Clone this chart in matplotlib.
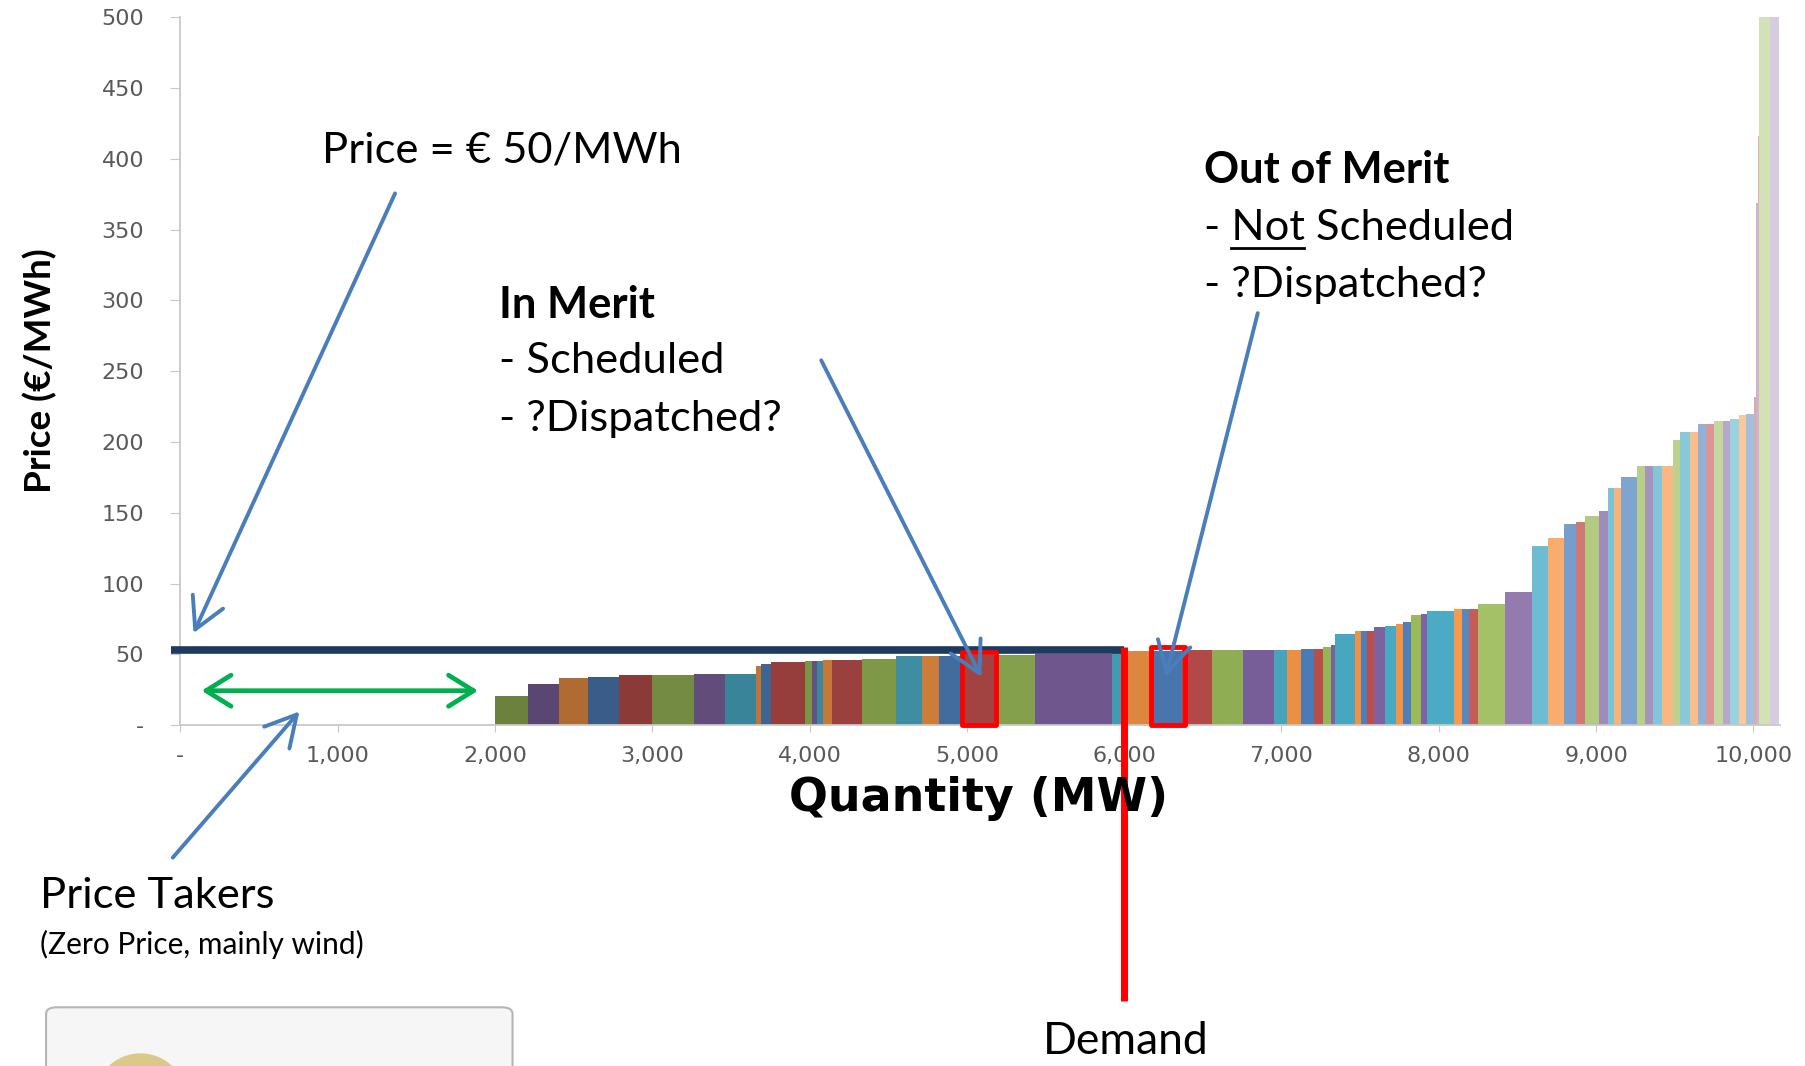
import matplotlib
matplotlib.use("Agg")
import matplotlib.pyplot as plt
import numpy as np
from matplotlib.patches import Rectangle, FancyArrowPatch, FancyBboxPatch, Ellipse
from matplotlib.lines import Line2D
from matplotlib.colors import to_rgb

# supply stack: start of each offer block (MW) and its bid price (EUR/MWh)
block_start = [2000, 2208, 2406, 2594, 2792, 3000, 3264, 3462, 3660, 3689,
               3755, 3971, 4018, 4050, 4084, 4142, 4332, 4551, 4718, 4823,
               4960, 5185, 5435, 5922, 5990, 6172, 6369, 6559, 6754, 6951,
               7036, 7125, 7205, 7265, 7316, 7343, 7466, 7508, 7544, 7587,
               7657, 7725, 7771, 7826, 7890, 7926, 8095, 8148, 8195, 8250,
               8420, 8590, 8692, 8794, 8874, 8931, 9016, 9073, 9116, 9158,
               9260, 9313, 9360, 9419, 9489, 9532, 9595, 9646, 9701, 9748,
               9807, 9854, 9907, 9955, 10006, 10016, 10026, 10036, 10105]
supply_end = 10165
block_price = [20.5, 29.3, 33.0, 34.0, 35.2, 35.7, 36.4, 36.0, 41.5, 43.4,
               44.6, 45.3, 45.3, 45.3, 46.2, 46.2, 46.9, 48.6, 48.6, 48.6,
               49.3, 49.3, 50.0, 51.0, 52.5, 52.5, 53.0, 53.0, 53.0, 53.4,
               53.4, 53.6, 54.0, 55.3, 56.5, 64.2, 66.4, 66.4, 66.4, 69.4,
               69.9, 71.3, 72.7, 77.9, 78.4, 80.5, 82.0, 82.0, 82.0, 85.3,
               94.4, 126.8, 132.0, 142.4, 143.5, 148.0, 151.0, 167.8, 167.8, 175.5,
               182.8, 182.8, 183.3, 183.3, 201.6, 206.8, 206.8, 213.0, 213.0, 214.6,
               215.0, 216.0, 219.0, 219.5, 232.0, 369.0, 416.0, 500.0, 500.0]
block_colour = list("GPOBRGPTOBRGPTORGTOBRGPTOBRGPTOBRGPTOBRPTOBGPTOBRGPTOBRGPTOBGPTOGTOBRGPTOBRPRGP")

clearing_price = 53
demand_mw = 6000
box_blocks = [(4968, 51.5), (6168, 55.3)]   # (start MW, top) of highlighted blocks
box_width = 220

x_ticks = list(range(0, 10001, 1000))
x_tick_labels = ["-"] + [f"{v:,}" for v in x_ticks[1:]]
y_ticks = list(range(0, 501, 50))
y_tick_labels = ["-"] + [str(v) for v in y_ticks[1:]]

base = {"B": "#4F81BD", "R": "#C0504D", "G": "#9BBB59",
        "P": "#8064A2", "T": "#4BACC6", "O": "#F79646"}


def shade(key, x):
    c = np.array(to_rgb(base[key]))
    if x < 8000:
        return tuple(c * (0.69 + 0.31 * (x - 2000) / 6000))
    t = np.interp(x, [8000, 8500, 9000, 9500, 10000, 10100],
                  [0.0, 0.18, 0.25, 0.33, 0.5, 0.67])
    return tuple(c + (1 - c) * t)


def fxy(x, y):
    # position measured on the 1568x926 reference -> figure fraction
    return (x / 1568, 1 - y / 926)


starts = np.array(block_start)
widths = np.diff(np.append(starts, supply_end))
colors = [shade(k, s) for k, s in zip(block_colour, starts)]

fig = plt.figure(figsize=(18.06, 10.66), dpi=100)
ax = fig.add_axes([0.0998, 0.3197, 0.8859, 0.6641])

ax.bar(starts, block_price, width=widths, align="edge", color=colors,
       linewidth=0, zorder=2)

ax.set_xlim(0, 10170)
ax.set_ylim(0, 500)
ax.set_xticks(x_ticks, x_tick_labels)
ax.set_yticks(y_ticks, y_tick_labels)
for s in ["top", "right"]:
    ax.spines[s].set_visible(False)
for s in ["left", "bottom"]:
    ax.spines[s].set_color("#C8C8C8")
    ax.spines[s].set_linewidth(1.3)
ax.tick_params(axis="y", length=7, color="#C8C8C8", pad=19, labelsize=16,
               labelcolor="#595959")
ax.tick_params(axis="x", length=5, color="#C8C8C8", pad=10, labelsize=16,
               labelcolor="#595959")

# clearing price and demand
ax.plot([-60, demand_mw], [clearing_price, clearing_price], color="#1F3A5F",
        lw=5.5, solid_capstyle="butt", clip_on=False, zorder=5)
ax.plot([demand_mw, demand_mw], [55, -195], color="#FF0000", lw=5,
        solid_capstyle="butt", clip_on=False, zorder=6)
for x0, top in box_blocks:
    ax.add_patch(Rectangle((x0, 0), box_width, top, fill=False, edgecolor="#FF0000",
                           lw=3.5, joinstyle="round", zorder=6, clip_on=False))

# axis titles
fig.text(*fxy(35, 322), "Price (€/MWh)", rotation=90, ha="center", va="center",
         fontsize=26.5, fontweight="bold", family=["Lato", "DejaVu Sans"])
fig.text(*fxy(850, 694), "Quantity (MW)", ha="center", va="center",
         fontsize=33, fontweight="bold", family="DejaVu Sans")

# annotations
txt = dict(fontsize=31.3, family=["Lato", "DejaVu Sans"], va="center", ha="left")
fig.text(*fxy(280, 131), "Price = € 50/MWh", **txt)
fig.text(*fxy(433, 265), "In Merit", fontweight="bold", **txt)
fig.text(*fxy(433, 314), "- Scheduled", **txt)
fig.text(*fxy(433, 364), "- ?Dispatched?", **txt)
fig.text(*fxy(1045, 148), "Out of Merit", fontweight="bold", **txt)
t_ns = fig.text(*fxy(1045, 198), "- Not Scheduled", **txt)
fig.text(*fxy(1045, 248), "- ?Dispatched?", **txt)
fig.text(*fxy(35, 778), "Price Takers", **txt)
fig.text(*fxy(35, 820), "(Zero Price, mainly wind)", fontsize=21.5,
         family=["Lato", "DejaVu Sans"], va="center", ha="left")
fig.text(*fxy(977, 905), "Demand", fontsize=32, family=["Lato", "DejaVu Sans"],
         va="center", ha="center")

# underline "Not"
r = fig.canvas.get_renderer()
tmp_a = fig.text(0, 0, "- Not", **txt)
tmp_b = fig.text(0, 0, "Not", **txt)
wa = tmp_a.get_window_extent(r).width
wb = tmp_b.get_window_extent(r).width
tmp_a.remove()
tmp_b.remove()
bb = t_ns.get_window_extent(r)
W, H = fig.bbox.width, fig.bbox.height
uy = fxy(0, 215)[1]
fig.add_artist(Line2D([(bb.x0 + wa - wb) / W, (bb.x0 + wa) / W], [uy, uy],
                      color="black", lw=2))

arrow_blue = "#4A7EBB"
arrows = [((343, 168), (168, 550)), ((713, 313), (852, 588)),
          ((1092, 272), (1012, 588)), ((150, 745), (260, 618))]
for tail, tip in arrows:
    fig.add_artist(FancyArrowPatch(fxy(*tail), fxy(*tip), transform=fig.transFigure,
                                   arrowstyle="->,head_length=0.55,head_width=0.3",
                                   mutation_scale=40, color=arrow_blue, lw=2.8,
                                   shrinkA=0, shrinkB=0, zorder=10))
fig.add_artist(FancyArrowPatch(fxy(175, 600), fxy(415, 600), transform=fig.transFigure,
                               arrowstyle="<->,head_length=0.45,head_width=0.28",
                               mutation_scale=40, color="#00B050", lw=3.4,
                               shrinkA=0, shrinkB=0, zorder=10))

# cut-off logo panel at the bottom
lx, ly = fxy(40, 875)
fig.add_artist(FancyBboxPatch((lx, -0.05), 405 / 1568, ly + 0.05,
                              boxstyle="round,pad=0,rounding_size=0.006",
                              transform=fig.transFigure, facecolor="#F6F6F6",
                              edgecolor="#B5B5B5", lw=1.5))
ex, ey = fxy(122, 955)
fig.add_artist(Ellipse((ex, ey), 80 / 1568, 80 / 926, transform=fig.transFigure,
                       facecolor="#DCC98A", edgecolor="none"))

fig.savefig("out.png", dpi=100)
